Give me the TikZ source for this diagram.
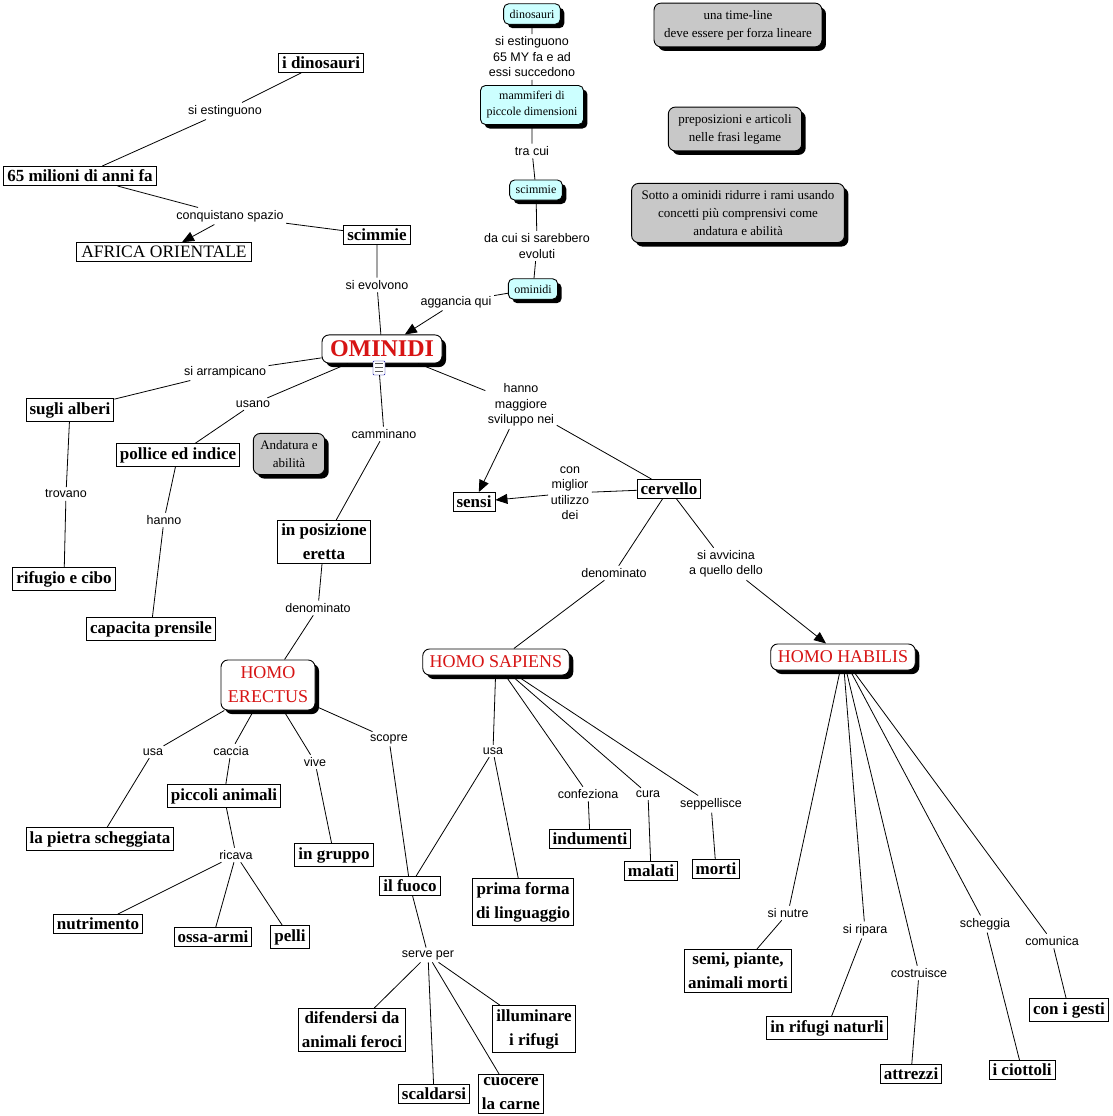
\documentclass[tikz,border=0pt]{standalone}
\usepackage{fontspec}
\setmainfont{Liberation Serif}
\newfontfamily\linkfont{Liberation Sans}
\usetikzlibrary{arrows.meta,shadows}
\definecolor{titlered}{RGB}{215,20,20}
\definecolor{pale}{RGB}{204,255,255}
\definecolor{notegray}{RGB}{200,200,200}
\tikzset{
  concept/.style={draw, fill=white, line width=0.9pt, inner sep=3.5pt, align=center, font=\fontsize{17}{24}\selectfont\bfseries},
  plain/.style={concept, inner xsep=5pt, font=\fontsize{17.5}{24}\selectfont},
  link/.style={inner sep=2.5pt, align=center, font=\linkfont\fontsize{12.5}{15.5}\selectfont},
  title/.style={draw, fill=white, rounded corners=7pt, line width=0.9pt, text=titlered, inner xsep=7pt, inner ysep=7pt, align=center, font=\fontsize{18}{24}\selectfont, drop shadow={shadow xshift=4pt, shadow yshift=-4pt, fill=black, opacity=1}},
  tag/.style={title, fill=pale, text=black, rounded corners=5pt, inner xsep=6pt, inner ysep=6pt, font=\fontsize{12}{16}\selectfont},
  memo/.style={title, fill=notegray, text=black, inner xsep=10pt, inner ysep=7pt, font=\fontsize{13}{18}\selectfont},
  conn/.style={line width=0.8pt},
  arr/.style={conn, -{Triangle[length=12pt,width=10pt]}},
}
\begin{document}
\begin{tikzpicture}[x=1pt, y=-1pt]
\useasboundingbox (0,0) rectangle (1113,1116);
% timeline chain, top
\node[tag] (tDino) at (532,14) {dinosauri};
\node[link] (lSucc) at (532,57) {si estinguono\\65 MY fa e ad\\essi succedono};
\node[tag] (tMamm) at (532,105) {mammiferi di\\piccole dimensioni};
\node[link] (lTraCui) at (532,151) {tra cui};
\node[tag] (tScim) at (536,190) {scimmie};
\node[link] (lEvoluti) at (537,246) {da cui si sarebbero\\evoluti};
\node[tag] (tOmin) at (533,289) {ominidi};
\node[link] (lAggancia) at (456,302) {aggancia qui};
% notes
\node[memo] (nTime) at (738,25) {una time-line\\deve essere per forza lineare};
\node[memo] (nPrep) at (735,129) {preposizioni e articoli\\nelle frasi legame};
\node[memo] (nSotto) at (738,213) {Sotto a ominidi ridurre i rami usando\\concetti più comprensivi come\\andatura e abilità};
\node[memo, inner xsep=7pt] (nAnd) at (289,454) {Andatura e\\abilità};
% top left
\node[concept] (dinosauri) at (321,63) {i dinosauri};
\node[link] (lEstinguono) at (225,111) {si estinguono};
\node[concept] (milioni) at (80,176) {65 milioni di anni fa};
\node[link] (lConquista) at (230,216) {conquistano spazio};
\node[plain] (africa) at (164,252) {AFRICA ORIENTALE};
\node[concept] (scimmie) at (377,235) {scimmie};
\node[link] (lEvolvono) at (377,285) {si evolvono};
% ominidi
\node[title, inner xsep=8pt, inner ysep=6pt, font=\fontsize{24}{30}\selectfont\bfseries] (ominidi) at (382,349) {OMINIDI};
\node[draw=blue!60!black, fill=white, minimum width=12, minimum height=14, inner sep=0pt, rounded corners=1pt] (icon) at (379,368) {};
\draw[gray!70!black] (375,363) -- (383,363) (375,367) -- (383,367) (375,371) -- (383,371);
\node[link] (lArramp) at (225,372) {si arrampicano};
\node[concept] (alberi) at (70,410) {sugli alberi};
\node[link] (lTrovano) at (66,494) {trovano};
\node[concept] (rifugio) at (64,579) {rifugio e cibo};
\node[link] (lUsano) at (253,404) {usano};
\node[concept] (pollice) at (178,455) {pollice ed indice};
\node[link] (lHanno) at (164,520) {hanno};
\node[concept] (prensile) at (151,629) {capacita prensile};
\node[link] (lCammin) at (384,434) {camminano};
\node[concept] (eretta) at (324,542) {in posizione\\eretta};
\node[link] (lDenomA) at (318,608) {denominato};
\node[link] (lSviluppo) at (521,405) {hanno\\maggiore\\sviluppo nei};
\node[concept] (sensi) at (474,502) {sensi};
\node[concept] (cervello) at (669,489) {cervello};
\node[link] (lMiglior) at (570,493) {con\\miglior\\utilizzo\\dei};
\node[link] (lDenomB) at (614,573) {denominato};
\node[link] (lAvvicina) at (726,564) {si avvicina\\a quello dello};
% the three homo
\node[title] (erectus) at (268,685) {HOMO\\ERECTUS};
\node[title] (sapiens) at (496,662) {HOMO SAPIENS};
\node[title] (habilis) at (843,657) {HOMO HABILIS};
% erectus branch
\node[link] (lUsaE) at (153,752) {usa};
\node[concept] (pietra) at (100,839) {la pietra scheggiata};
\node[link] (lCaccia) at (231,751) {caccia};
\node[concept] (piccoli) at (224,796) {piccoli animali};
\node[link] (lRicava) at (236,855) {ricava};
\node[concept] (nutrimento) at (98,924) {nutrimento};
\node[concept] (ossa) at (213,937) {ossa-armi};
\node[concept] (pelli) at (290,937) {pelli};
\node[link] (lVive) at (315,762) {vive};
\node[concept] (gruppo) at (334,855) {in gruppo};
\node[link] (lScopre) at (389,739) {scopre};
\node[concept] (fuoco) at (410,886) {il fuoco};
\node[link] (lServe) at (428,955) {serve per};
\node[concept] (difendersi) at (352,1030) {difendersi da\\animali feroci};
\node[concept] (scaldarsi) at (434,1094) {scaldarsi};
\node[concept] (cuocere) at (511,1094) {cuocere\\la carne};
\node[concept] (illuminare) at (534,1029) {illuminare\\i rifugi};
% sapiens branch
\node[link] (lUsaS) at (493,751) {usa};
\node[concept] (linguaggio) at (523,902) {prima forma\\di linguaggio};
\node[link] (lConfez) at (588,794) {confeziona};
\node[concept] (indumenti) at (590,839) {indumenti};
\node[link] (lCura) at (648,794) {cura};
\node[concept] (malati) at (651,871) {malati};
\node[link] (lSeppel) at (711,804) {seppellisce};
\node[concept] (morti) at (716,869) {morti};
% habilis branch
\node[link] (lNutre) at (788,913) {si nutre};
\node[concept] (semi) at (738,971) {semi, piante,\\animali morti};
\node[link] (lRipara) at (865,930) {si ripara};
\node[concept] (naturli) at (827,1028) {in rifugi naturli};
\node[link] (lCostr) at (919,973) {costruisce};
\node[concept] (attrezzi) at (911,1074) {attrezzi};
\node[link] (lScheggia) at (985,924) {scheggia};
\node[concept] (ciottoli) at (1022,1070) {i ciottoli};
\node[link] (lComunica) at (1052,941) {comunica};
\node[concept] (gesti) at (1069,1010) {con i gesti};
% connectors
\draw[conn] (tDino) -- (lSucc) (lSucc) -- (tMamm) (tMamm) -- (lTraCui) (lTraCui) -- (tScim) (tScim) -- (lEvoluti) (lEvoluti) -- (tOmin) (tOmin) -- (lAggancia);
\draw[arr] (lAggancia) -- (ominidi);
\draw[conn] (dinosauri) -- (lEstinguono) (lEstinguono) -- (milioni) (milioni) -- (lConquista) (lConquista) -- (scimmie);
\draw[arr] (lConquista) -- (africa);
\draw[conn] (scimmie) -- (lEvolvono) (lEvolvono) -- (ominidi);
\draw[conn] (ominidi) -- (lArramp) (lArramp) -- (alberi) (alberi) -- (lTrovano) (lTrovano) -- (rifugio);
\draw[conn] (ominidi) -- (lUsano) (lUsano) -- (pollice) (pollice) -- (lHanno) (lHanno) -- (prensile);
\draw[conn] (icon) -- (lCammin) (lCammin) -- (eretta) (eretta) -- (lDenomA) (lDenomA) -- (erectus);
\draw[conn] (ominidi) -- (lSviluppo) (lSviluppo) -- (cervello);
\draw[arr] (lSviluppo) -- (sensi);
\draw[conn] (cervello) -- (lMiglior);
\draw[arr] (lMiglior) -- (sensi);
\draw[conn] (cervello) -- (lDenomB) (lDenomB) -- (sapiens) (cervello) -- (lAvvicina);
\draw[arr] (lAvvicina) -- (habilis);
\draw[conn] (erectus) -- (lUsaE) (lUsaE) -- (pietra) (erectus) -- (lCaccia) (lCaccia) -- (piccoli) (piccoli) -- (lRicava);
\draw[conn] (lRicava) -- (nutrimento) (lRicava) -- (ossa) (lRicava) -- (pelli);
\draw[conn] (erectus) -- (lVive) (lVive) -- (gruppo) (erectus) -- (lScopre) (lScopre) -- (fuoco) (fuoco) -- (lServe);
\draw[conn] (lServe) -- (difendersi) (lServe) -- (scaldarsi) (lServe) -- (cuocere) (lServe) -- (illuminare);
\draw[conn] (sapiens) -- (lUsaS) (lUsaS) -- (fuoco) (lUsaS) -- (linguaggio);
\draw[conn] (sapiens) -- (lConfez) (lConfez) -- (indumenti) (sapiens) -- (lCura) (lCura) -- (malati) (sapiens) -- (lSeppel) (lSeppel) -- (morti);
\draw[conn] (habilis) -- (lNutre) (lNutre) -- (semi) (habilis) -- (lRipara) (lRipara) -- (naturli) (habilis) -- (lCostr) (lCostr) -- (attrezzi);
\draw[conn] (habilis) -- (lScheggia) (lScheggia) -- (ciottoli) (habilis) -- (lComunica) (lComunica) -- (gesti);
\end{tikzpicture}
\end{document}
